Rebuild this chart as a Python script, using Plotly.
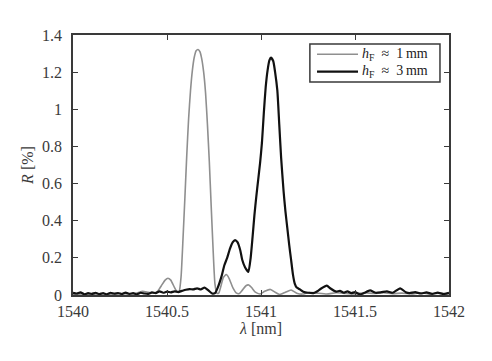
import plotly.graph_objects as go

# h_F ~ 1 mm (gray)
x_1mm = [1540.00, 1540.05, 1540.10, 1540.15, 1540.20, 1540.25, 1540.30, 1540.34, 1540.37, 1540.40,
         1540.43, 1540.45, 1540.47, 1540.49, 1540.505, 1540.52, 1540.54, 1540.555,
         1540.565, 1540.575, 1540.585, 1540.595, 1540.605, 1540.615, 1540.625, 1540.635, 1540.645,
         1540.655, 1540.665, 1540.675, 1540.685, 1540.695, 1540.705, 1540.715, 1540.725, 1540.735,
         1540.745, 1540.755, 1540.765, 1540.775, 1540.79, 1540.80, 1540.815, 1540.83, 1540.85,
         1540.87, 1540.885, 1540.90, 1540.92, 1540.935, 1540.95, 1540.97, 1540.995, 1541.02,
         1541.05, 1541.075, 1541.10, 1541.13, 1541.16, 1541.19, 1541.22, 1541.26, 1541.30,
         1541.35, 1541.40, 1541.45, 1541.50, 1541.55, 1541.60, 1541.65, 1541.70, 1541.75,
         1541.80, 1541.85, 1541.90, 1541.95, 1542.00]
r_1mm = [0.004, 0.006, 0.003, 0.007, 0.004, 0.008, 0.005, 0.010, 0.020, 0.015,
         0.010, 0.020, 0.050, 0.080, 0.090, 0.080, 0.040, 0.015,
         0.020, 0.100, 0.300, 0.520, 0.750, 0.950, 1.100, 1.210, 1.280,
         1.315, 1.322, 1.310, 1.270, 1.200, 1.090, 0.920, 0.720, 0.480,
         0.250, 0.060, 0.010, 0.010, 0.060, 0.095, 0.110, 0.090, 0.040,
         0.010, 0.008, 0.025, 0.050, 0.054, 0.040, 0.015, 0.005, 0.020,
         0.030, 0.015, 0.003, 0.015, 0.027, 0.010, 0.005, 0.015, 0.010,
         0.005, 0.012, 0.008, 0.006, 0.012, 0.008, 0.012, 0.007, 0.010,
         0.006, 0.012, 0.006, 0.010, 0.005]

# h_F ~ 3 mm (black)
x_3mm = [1540.00, 1540.02, 1540.04, 1540.06, 1540.08, 1540.10, 1540.12, 1540.14, 1540.16, 1540.18,
         1540.20, 1540.22, 1540.24, 1540.26, 1540.28, 1540.30, 1540.32, 1540.34, 1540.36, 1540.38,
         1540.40, 1540.42, 1540.44, 1540.46, 1540.48, 1540.50, 1540.52, 1540.54, 1540.56, 1540.58,
         1540.60, 1540.62, 1540.64, 1540.66, 1540.68, 1540.70, 1540.72, 1540.74, 1540.755, 1540.77,
         1540.79, 1540.805, 1540.82, 1540.835, 1540.85, 1540.862, 1540.875, 1540.89, 1540.90, 1540.915,
         1540.933, 1540.945, 1540.955, 1540.965, 1540.975, 1540.985, 1540.995, 1541.005, 1541.015,
         1541.025, 1541.035, 1541.045, 1541.053, 1541.065, 1541.075, 1541.087, 1541.097, 1541.107,
         1541.12, 1541.13, 1541.14, 1541.15, 1541.16, 1541.17, 1541.18, 1541.19, 1541.207,
         1541.225, 1541.25, 1541.28, 1541.30, 1541.32, 1541.35, 1541.37, 1541.40, 1541.42, 1541.44,
         1541.46, 1541.48, 1541.50, 1541.527, 1541.55, 1541.58, 1541.61, 1541.64, 1541.67, 1541.70,
         1541.74, 1541.77, 1541.79, 1541.82, 1541.85, 1541.88, 1541.91, 1541.94, 1541.97, 1542.00]
r_3mm = [0.012, 0.008, 0.014, 0.004, 0.010, 0.006, 0.012, 0.005, 0.010, 0.004,
         0.012, 0.007, 0.010, 0.005, 0.013, 0.006, 0.010, 0.004, 0.012, 0.008,
         0.006, 0.014, 0.010, 0.020, 0.012, 0.018, 0.014, 0.020, 0.016, 0.022,
         0.028, 0.032, 0.030, 0.036, 0.030, 0.040, 0.025, 0.008, 0.010, 0.040,
         0.100, 0.160, 0.200, 0.250, 0.285, 0.296, 0.285, 0.240, 0.190, 0.150,
         0.124, 0.200, 0.310, 0.430, 0.530, 0.620, 0.710, 0.820, 0.980,
         1.120, 1.210, 1.265, 1.278, 1.260, 1.200, 1.100, 0.920, 0.740,
         0.560, 0.450, 0.360, 0.270, 0.190, 0.110, 0.060, 0.040, 0.030,
         0.018, 0.012, 0.010, 0.020, 0.035, 0.050, 0.035, 0.018, 0.022, 0.012,
         0.020, 0.010, 0.016, 0.003, 0.012, 0.025, 0.012, 0.015, 0.020, 0.012,
         0.036, 0.015, 0.010, 0.015, 0.008, 0.014, 0.006, 0.013, 0.005, 0.012]

series_names = ["<i>h</i><sub>F</sub>\u2002≈\u20021\u2009mm", "<i>h</i><sub>F</sub>\u2002≈\u20023\u2009mm"]
series_colors = ["#8f8f8f", "#111111"]
series_widths = [1.6, 2.2]

x_ticks = [1540, 1540.5, 1541, 1541.5, 1542]
x_tick_labels = ["1540", "1540.5", "1541", "1541.5", "1542"]
y_ticks = [0, 0.2, 0.4, 0.6, 0.8, 1.0, 1.2, 1.4]
y_tick_labels = ["0", "0.2", "0.4", "0.6", "0.8", "1", "1.2", "1.4"]

FONT = "Liberation Serif"
TXT = "#3a3a3a"
FRAME = "#3a3a3a"

fig = go.Figure()
for xs, ys, nm, col, w in zip([x_1mm, x_3mm], [r_1mm, r_3mm], series_names, series_colors, series_widths):
    fig.add_trace(go.Scatter(x=xs, y=ys, mode="lines",
                             line=dict(color=col, width=w, shape="spline", smoothing=0.5),
                             name=nm, showlegend=False))

axis_common = dict(showline=True, linecolor=FRAME, linewidth=1.5, mirror="ticks",
                   ticks="inside", ticklen=5, tickcolor=FRAME, tickwidth=1.2,
                   showgrid=False, zeroline=False,
                   tickfont=dict(family=FONT, size=16, color=TXT))

fig.update_xaxes(range=[1540, 1542], tickvals=x_ticks, ticktext=x_tick_labels,
                 title=dict(text="<i>λ</i> [nm]", font=dict(family=FONT, size=16, color=TXT), standoff=2),
                 ticklabelstandoff=1, **axis_common)
fig.update_yaxes(range=[0, 1.4], tickvals=y_ticks, ticktext=y_tick_labels,
                 title=dict(text="<i>R</i> [%]", font=dict(family=FONT, size=16, color=TXT), standoff=4),
                 ticklabelstandoff=6, **axis_common)

# legend box drawn in paper coordinates (compact, like the reference)
fig.add_shape(type="rect", xref="paper", yref="paper", x0=0.630, x1=0.976, y0=0.819, y1=0.965,
              line=dict(color=FRAME, width=1.5), fillcolor="white", layer="above")
legend_rows_y = [0.926, 0.859]
for yy, nm, col, w in zip(legend_rows_y, series_names, series_colors, series_widths):
    fig.add_shape(type="line", xref="paper", yref="paper", x0=0.649, x1=0.758, y0=yy, y1=yy,
                  line=dict(color=col, width=w), layer="above")
    fig.add_annotation(xref="paper", yref="paper", x=0.764, y=yy, xanchor="left", yanchor="middle",
                       text=nm, showarrow=False, font=dict(family=FONT, size=14, color="#222222"))

# the page body adds an 8 px offset; margins compensate so the plot area matches
fig.update_layout(
    width=484, height=353,
    margin=dict(l=65, r=43, t=27, b=66),
    paper_bgcolor="white", plot_bgcolor="white",
    showlegend=False,
)

fig.write_html("out.html")
